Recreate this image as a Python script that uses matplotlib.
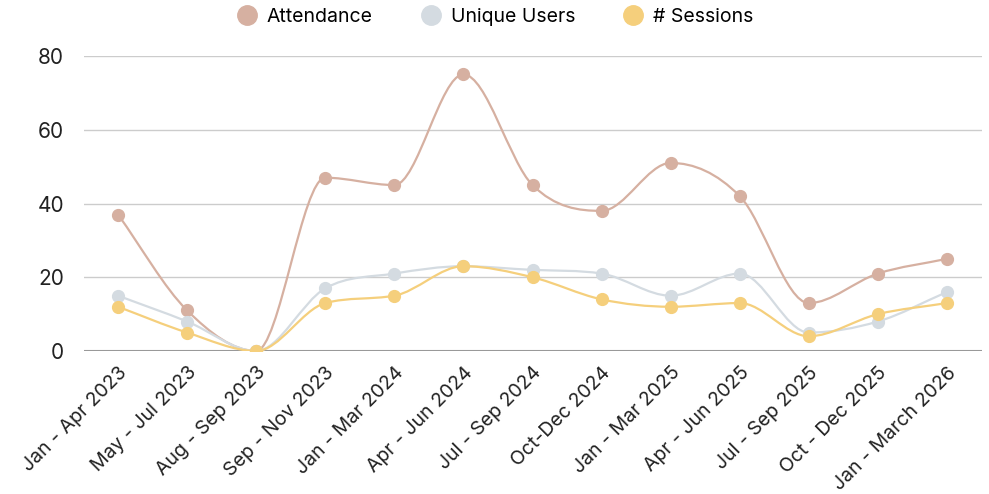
import matplotlib.pyplot as plt
import numpy as np
from matplotlib.path import Path
from matplotlib.patches import PathPatch
from matplotlib.lines import Line2D

plt.rcParams['font.family'] = ['Inter', 'DejaVu Sans']

periods = ["Jan - Apr 2023", "May - Jul 2023", "Aug - Sep 2023", "Sep - Nov 2023",
           "Jan - Mar 2024", "Apr - Jun 2024", "Jul - Sep 2024", "Oct-Dec 2024",
           "Jan - Mar 2025", "Apr - Jun 2025", "Jul - Sep 2025", "Oct - Dec 2025",
           "Jan - March 2026"]
attendance = [37, 11, 0, 47, 45, 75, 45, 38, 51, 42, 13, 21, 25]
unique_users = [15, 8, 0, 17, 21, 23, 22, 21, 15, 21, 5, 8, 16]
sessions = [12, 5, 0, 13, 15, 23, 20, 14, 12, 13, 4, 10, 13]

series = [("Attendance", attendance, "#d6b0a1"),
          ("Unique Users", unique_users, "#d4dbe1"),
          ("# Sessions", sessions, "#f5cf7c")]


def monotone_path(x, y):
    # monotone cubic curve through the points, as bezier segments
    x = np.asarray(x, float)
    y = np.asarray(y, float)
    n = len(x)
    d = np.diff(y) / np.diff(x)
    m = np.zeros(n)
    m[0], m[-1] = d[0], d[-1]
    for i in range(1, n - 1):
        if d[i - 1] * d[i] > 0:
            m[i] = (d[i - 1] + d[i]) / 2
    for i in range(n - 1):
        if d[i] == 0:
            m[i] = m[i + 1] = 0
            continue
        a, b = m[i] / d[i], m[i + 1] / d[i]
        s = a * a + b * b
        if s > 9:
            t = 3 / np.sqrt(s)
            m[i] = t * a * d[i]
            m[i + 1] = t * b * d[i]
    verts = [(x[0], y[0])]
    codes = [Path.MOVETO]
    for i in range(n - 1):
        h = (x[i + 1] - x[i]) / 3
        verts += [(x[i] + h, y[i] + m[i] * h), (x[i + 1] - h, y[i + 1] - m[i + 1] * h),
                  (x[i + 1], y[i + 1])]
        codes += [Path.CURVE4] * 3
    return Path(verts, codes)


fig = plt.figure(figsize=(9.89, 4.94), dpi=100)
ax = fig.add_axes([83.5 / 989, 1 - 351 / 494, 898 / 989, 295 / 494])

xs = np.arange(len(periods))
handles = []
for name, vals, col in series:
    ax.add_patch(PathPatch(monotone_path(xs, vals), facecolor='none', edgecolor=col,
                           lw=1.6, zorder=3))
    ax.plot(xs, vals, 'o', color=col, ms=8.5, zorder=4)
    handles.append(Line2D([], [], marker='o', ls='none', color=col, ms=14))

ax.set_xlim(-0.5, len(periods) - 0.5)
ax.set_ylim(0, 80)
ax.set_yticks([0, 20, 40, 60, 80])
ax.set_xticks(xs)
ax.set_xticklabels(periods, rotation=45, ha='right', va='top', rotation_mode='anchor',
                   fontsize=14, color='#222222')
ax.tick_params(axis='y', length=0, pad=14, labelsize=15, labelcolor='#222222')
ax.tick_params(axis='x', length=0, pad=9)
ax.grid(axis='y', color='#cccccc', lw=1)
ax.axhline(0, color='#999999', lw=1.5, zorder=2)
for s in ax.spines.values():
    s.set_visible(False)

fig.legend(handles, [s[0] for s in series], loc='center', bbox_to_anchor=(0.5, 1 - 17 / 494),
           ncol=3, frameon=False, fontsize=14, handletextpad=0.4, columnspacing=2.4,
           handlelength=1.2)

plt.savefig("out.png", dpi=100)
